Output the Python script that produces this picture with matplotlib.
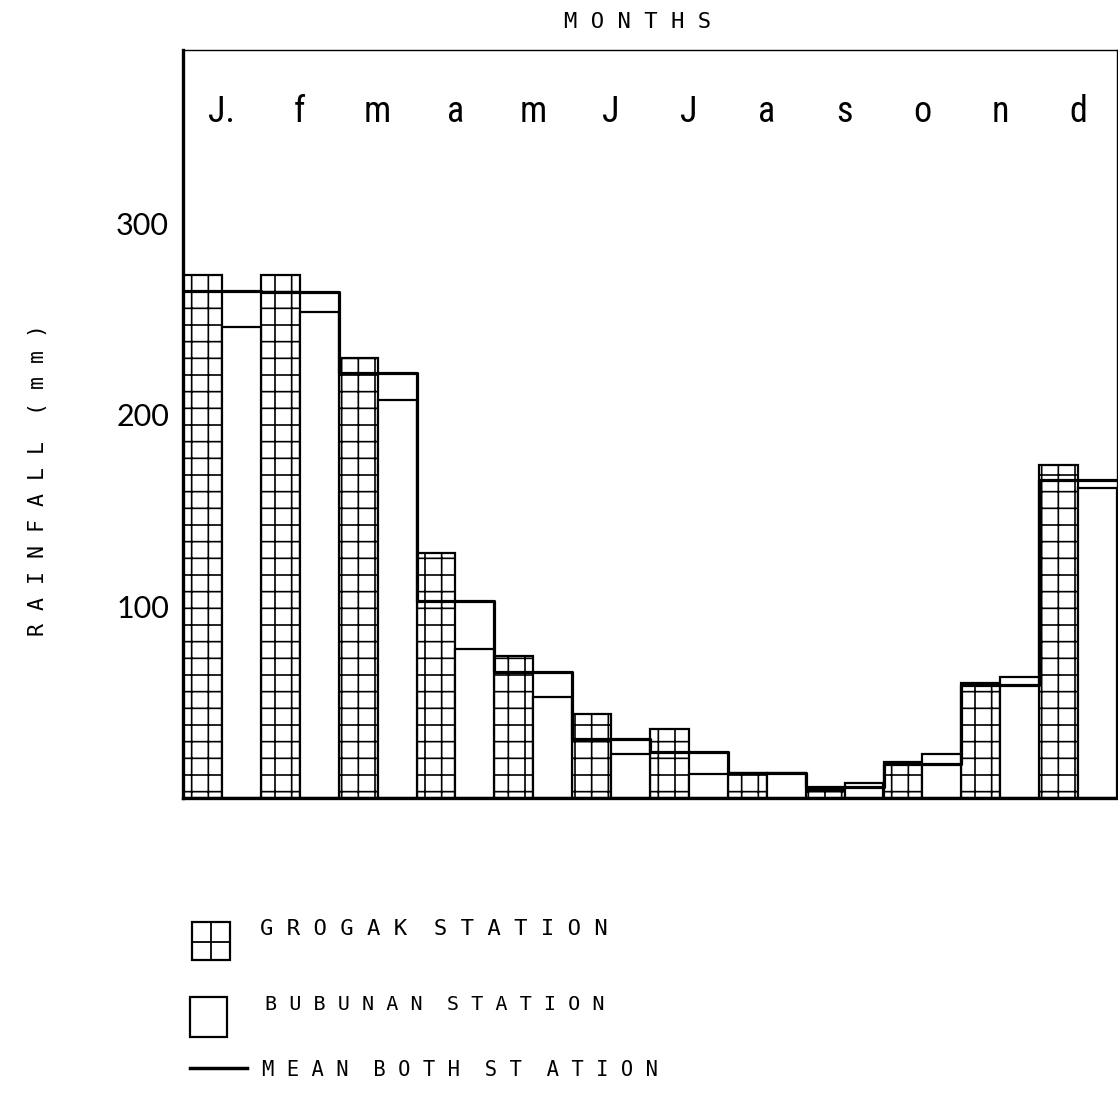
import numpy as np
import matplotlib
matplotlib.use("Agg")
import matplotlib.pyplot as plt
from matplotlib import font_manager
from matplotlib.patches import Rectangle
from matplotlib.lines import Line2D

# ---- data (mm) ----
months = ["J.", "f", "m", "a", "m", "J", "J", "a", "s", "o", "n", "d"]
grogak = [273, 273, 230, 128, 74, 44, 36, 13, 4, 19, 60, 174]
bubunan = [246, 254, 208, 78, 53, 23, 12.5, 13, 8, 23, 63, 162]
mean_both = [265, 264, 222, 103, 66, 31, 24, 13, 6, 18, 59, 166]
yticks = [100, 200, 300]
ytick_labels = ["100", "200", "300"]

# ---- font choice (pick a narrow face if one is installed) ----
entries = font_manager.fontManager.ttflist
names = {f.name for f in entries}
narrow_kw = {"family": "DejaVu Sans"}
for cand in ["Liberation Sans Narrow", "Roboto Condensed", "Open Sans Condensed",
             "Noto Sans Condensed"]:
    if cand in names:
        narrow_kw = {"family": cand}
        break
else:
    for f in entries:
        if f.stretch in ("condensed", "semi-condensed", 600, 700) and f.name in (
                "DejaVu Sans", "Noto Sans", "Open Sans", "Roboto"):
            narrow_kw = {"family": f.name, "fontstretch": "condensed"}
            break
tick_family = "Lato" if "Lato" in names else "DejaVu Sans"
mono = "DejaVu Sans Mono"

plt.rcParams["hatch.linewidth"] = 1.2
plt.rcParams["font.family"] = ["DejaVu Sans"]

W, H = 1118, 1098
fig = plt.figure(figsize=(W / 100, H / 100), dpi=100)
ax = fig.add_axes([183 / W, 1 - 798 / H, (1117 - 183) / W, (798 - 50) / H])
ax.set_xlim(0, 12)
ax.set_ylim(0, 390.6)

x = np.arange(len(months))
ax.bar(x, grogak, width=0.5, align="edge", color="white", edgecolor="black",
       hatch="+", linewidth=1.6, zorder=2)
ax.bar(x + 0.5, bubunan, width=0.5, align="edge", color="white",
       edgecolor="black", linewidth=1.6, zorder=2)
ax.step(np.arange(len(months) + 1), list(mean_both) + [mean_both[-1]],
        where="post", color="black", linewidth=2.3, zorder=3)

for i, m in enumerate(months):
    ax.text(i + 0.5, 353, m, ha="center", va="baseline", fontsize=26,
            fontweight="normal", **narrow_kw)

ax.set_xticks([])
ax.set_yticks(yticks)
ax.set_yticklabels(ytick_labels, family=tick_family, fontweight="normal")
ax.tick_params(axis="y", length=0, pad=10, labelsize=22, labelcolor="black")
ax.spines["left"].set_linewidth(2.4)
ax.spines["bottom"].set_linewidth(2.4)
ax.spines["top"].set_linewidth(1.0)
ax.spines["right"].set_linewidth(1.0)

ax.set_title("M O N T H S", x=(638 - 183) / 934, y=1 + 28 / 748, pad=0,
             va="center", family=mono, fontsize=16)
ax.set_ylabel("R A I N F A L L  ( m m )", family=mono, fontsize=15.5,
              va="center")
ax.yaxis.set_label_coords((38 - 183) / 934, (798 - 480) / 748)

# ---- legend (figure pixel coordinates) ----
fx = lambda px: px / W
fy = lambda py: 1 - py / H

fig.add_artist(Rectangle((fx(192), fy(960)), 38 / W, 38 / H, fill=False,
                         edgecolor="black", linewidth=1.6,
                         transform=fig.transFigure))
fig.add_artist(Line2D([fx(211), fx(211)], [fy(960), fy(922)], color="black",
                      linewidth=1.3, transform=fig.transFigure))
fig.add_artist(Line2D([fx(192), fx(230)], [fy(942), fy(942)], color="black",
                      linewidth=1.3, transform=fig.transFigure))
fig.add_artist(Rectangle((fx(190), fy(1037)), 37 / W, 40 / H, fill=False,
                         edgecolor="black", linewidth=1.6,
                         transform=fig.transFigure))
fig.add_artist(Line2D([fx(190), fx(247)], [fy(1068), fy(1068)], color="black",
                      linewidth=2.5, transform=fig.transFigure))

fig.text(fx(260), fy(929), "G R O G A K  S T A T I O N", ha="left",
         va="center", family=mono, fontsize=16)
fig.text(fx(265), fy(1005), "B U B U N A N  S T A T I O N", ha="left",
         va="center", family=mono, fontsize=14.5)
fig.text(fx(262), fy(1070), "M E A N  B O T H  S T  A T I O N", ha="left",
         va="center", family=mono, fontsize=14.8)

fig.savefig("out.png", dpi=100, facecolor="white")
